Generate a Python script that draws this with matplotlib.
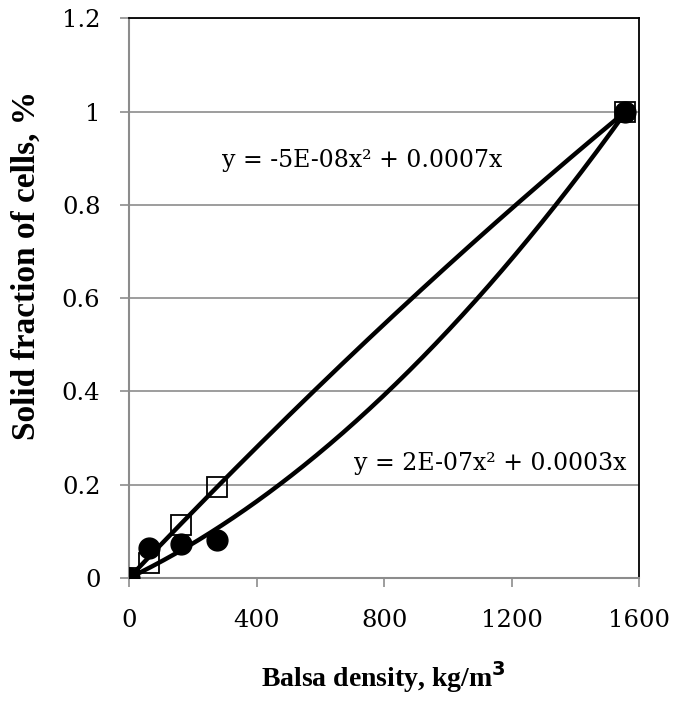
import numpy as np
import matplotlib
matplotlib.use('Agg')
import matplotlib.pyplot as plt

# Datos
densidad = [0, 64, 163, 276, 1555]
fraccion_cuadros = [0, 0.032, 0.113, 0.196, 1.0]
fraccion_circulos = [0, 0.064, 0.073, 0.081, 1.0]
# Coeficientes de las lineas de tendencia (a*x^2 + b*x)
coef_cuadros = [-5.0e-8, 7.2e-4]
coef_circulos = [2.0e-7, 3.3e-4]
x_ticks = [0, 400, 800, 1200, 1600]
y_ticks = [0, 0.2, 0.4, 0.6, 0.8, 1.0, 1.2]
y_tick_labels = ['0', '0.2', '0.4', '0.6', '0.8', '1', '1.2']
eq_cuadros = 'y = -5E-08x\u00b2 + 0.0007x'
eq_circulos = 'y = 2E-07x\u00b2 + 0.0003x'

plt.rcParams['font.family'] = ['DejaVu Serif']

fig = plt.figure(figsize=(6.75, 7.02), dpi=100)
ax = fig.add_axes([0.191, 0.1766, 0.756, 0.7974])

# Lineas de tendencia polinomicas
xs = np.linspace(0, densidad[-1], 300)
for a, b in (coef_cuadros, coef_circulos):
    ax.plot(xs, a * xs ** 2 + b * xs, color='black', lw=3.2, zorder=3,
            solid_capstyle='butt')

ax.plot(densidad, fraccion_circulos, 'o', color='black', ms=15, zorder=4)
ax.plot(densidad, fraccion_cuadros, 's', mfc='none', mec='black', mew=1.3,
        ms=14, zorder=5)

ax.set_xlim(0, 1600)
ax.set_ylim(0, 1.2)
ax.set_xticks(x_ticks)
ax.set_xticklabels([str(t) for t in x_ticks])
ax.set_yticks(y_ticks)
ax.set_yticklabels(y_tick_labels)
ax.tick_params(axis='both', labelsize=17.5, direction='out', length=6.5,
               color='#8c8c8c', width=1.2)
ax.tick_params(axis='x', pad=16)
ax.tick_params(axis='y', pad=14)
ax.yaxis.grid(True, color='#8c8c8c', lw=1.2)
ax.set_axisbelow(True)

ax.spines['left'].set_color('#8c8c8c')
ax.spines['bottom'].set_color('#8c8c8c')
ax.spines['left'].set_linewidth(1.5)
ax.spines['bottom'].set_linewidth(1.5)
ax.spines['top'].set_color('black')
ax.spines['right'].set_color('black')
ax.spines['top'].set_linewidth(1.3)
ax.spines['right'].set_linewidth(1.3)

ax.text(730, 0.895, eq_cuadros, fontsize=17, ha='center', va='center')
ax.text(1132, 0.246, eq_circulos, fontsize=17, ha='center', va='center')

fig.text(383 / 675, 1 - 687 / 702, 'Balsa density, kg/m$^\\mathbf{3}$',
         fontsize=20, fontweight='bold', family='Liberation Serif',
         ha='center', va='baseline')
fig.text(26 / 675, 1 - 265 / 702, 'Solid fraction of cells, %',
         fontsize=24, fontweight='bold', family='Liberation Serif',
         ha='center', va='center', rotation=90)

fig.savefig('out.png', dpi=100)
